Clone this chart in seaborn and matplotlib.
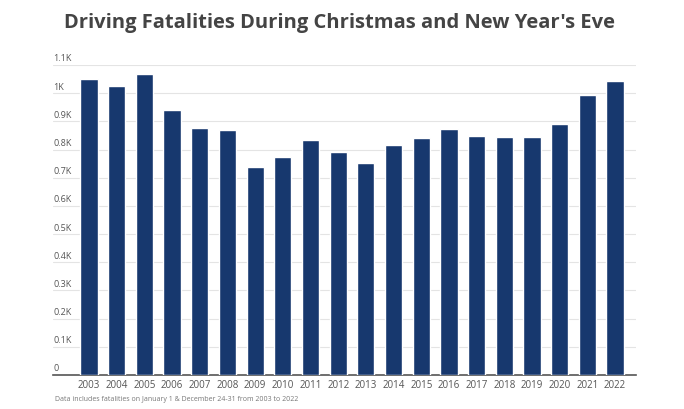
import matplotlib
matplotlib.use("Agg")
import matplotlib.pyplot as plt
import matplotlib.transforms as mtransforms
import pandas as pd
import seaborn as sns

# values
years = [str(y) for y in range(2003, 2023)]
fatalities = [1050, 1026, 1067, 942, 875, 871, 738, 772, 834, 791,
              753, 815, 842, 872, 849, 846, 844, 891, 992, 1045]
y_ticks = [0, 100, 200, 300, 400, 500, 600, 700, 800, 900, 1000, 1100]
y_tick_labels = ["0", "0.1K", "0.2K", "0.3K", "0.4K", "0.5K", "0.6K",
                 "0.7K", "0.8K", "0.9K", "1K", "1.1K"]

title = "Driving Fatalities During Christmas and New Year's Eve"
note = "Data includes fatalities on January 1 & December 24-31 from 2003 to 2022"

bar_color = "#17386e"
text_grey = "#555555"

sns.set_theme(style="white")
plt.rcParams["font.family"] = ["Open Sans", "DejaVu Sans"]

df = pd.DataFrame({"year": years, "fatalities": fatalities})

fig = plt.figure(figsize=(6.84, 4.10), dpi=100)
ax = fig.add_axes([0.0775, 0.083, 0.8525, 0.756])

sns.barplot(data=df, x="year", y="fatalities", color=bar_color,
            saturation=1, width=0.62, ax=ax, zorder=3)

ax.set_xlim(-1.3, 19.76)
ax.set_ylim(0, 1100)
ax.set_yticks(y_ticks)
ax.set_yticklabels([])
ax.tick_params(axis="y", length=0)
ax.tick_params(axis="x", length=0, pad=3, labelsize=7, labelcolor=text_grey)
ax.grid(axis="y", color="#e4e4e4", linewidth=0.8, zorder=0)
ax.set_xlabel("")
ax.set_ylabel("")

for side in ["top", "right", "left"]:
    ax.spines[side].set_visible(False)
ax.spines["bottom"].set_color("#555555")
ax.spines["bottom"].set_linewidth(1.2)

# y labels sit just above the gridlines, inside the plot
trans = mtransforms.blended_transform_factory(ax.transAxes, ax.transData)
for val, lab in zip(y_ticks, y_tick_labels):
    ax.text(0.0, val + 9, lab, transform=trans, ha="left", va="bottom",
            fontsize=6.5, color=text_grey)

fig.text(0.497, 0.945, title, ha="center", va="center",
         fontsize=14.5, fontweight="bold", color="#444444")
fig.text(0.08, 0.025, note, ha="left", va="center",
         fontsize=5, color="#777777")

fig.savefig("out.png", dpi=100)
